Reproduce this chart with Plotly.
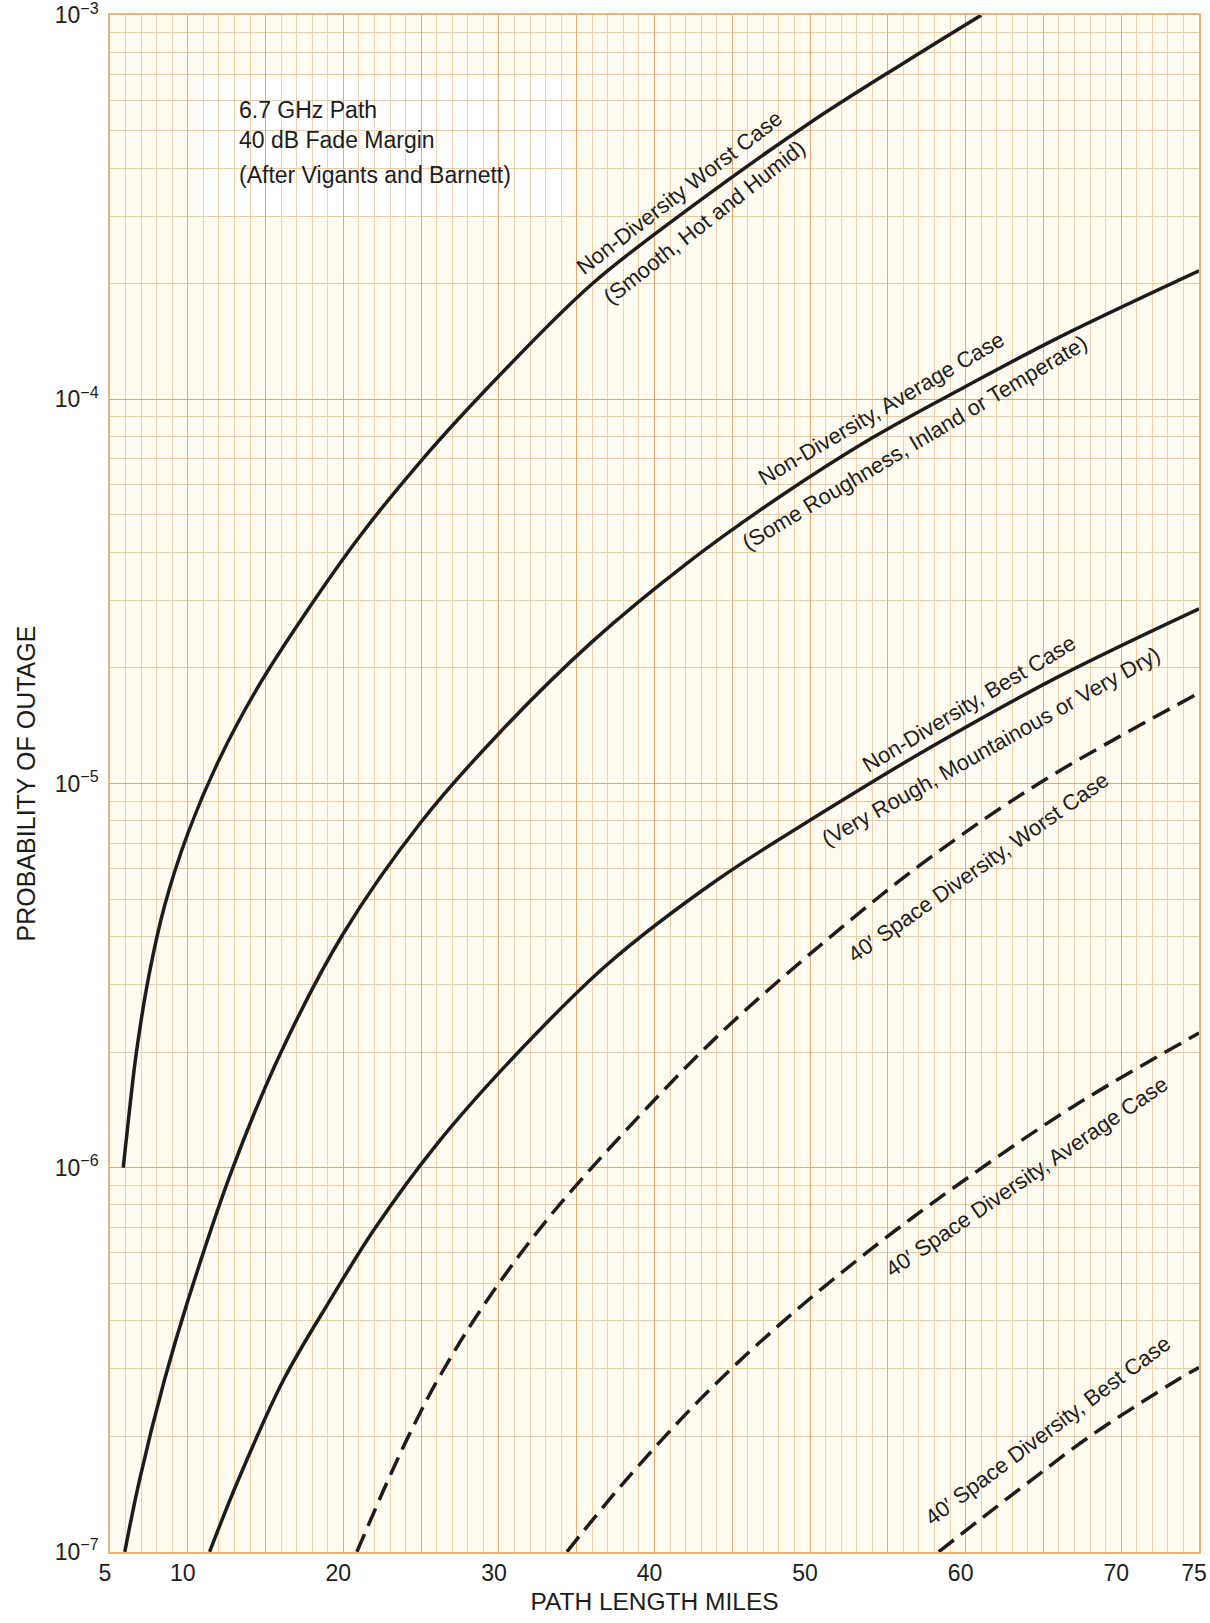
import plotly.graph_objects as go

# ---- data: path length (miles) vs. probability of outage ----
worst_x = [5.85, 6.2, 6.7, 7.5, 8.5, 10.0, 12.0, 14.5, 17.5, 21.0, 25.0, 30.0, 36.0, 43.0, 50.0, 56.0, 61.0]
worst_p = [1.0e-6, 1.35e-6, 2.0e-6, 3.16e-6, 4.79e-6, 7.41e-6, 1.15e-5, 1.78e-5, 2.75e-5,
           4.37e-5, 6.92e-5, 1.15e-4, 2.0e-4, 3.31e-4, 5.25e-4, 7.5e-4, 1.0e-3]

avg_x = [5.95, 6.9, 8.5, 10.0, 12.9, 16.0, 20.0, 25.0, 30.0, 36.0, 42.0, 48.0, 54.0, 60.0, 66.0, 75.0]
avg_p = [1.0e-7, 1.54e-7, 2.8e-7, 4.5e-7, 1.0e-6, 2.0e-6, 4.07e-6, 7.94e-6, 1.35e-5,
         2.34e-5, 3.72e-5, 5.56e-5, 7.94e-5, 1.08e-4, 1.45e-4, 2.16e-4]

best_x = [11.4, 13.25, 16.15, 19.15, 22.0, 26.0, 31.0, 37.0, 44.0, 51.0, 58.0, 66.0, 75.0]
best_p = [1.0e-7, 1.54e-7, 2.8e-7, 4.52e-7, 6.92e-7, 1.15e-6, 1.95e-6, 3.39e-6, 5.6e-6,
          8.5e-6, 1.26e-5, 1.9e-5, 2.85e-5]

div_worst_x = [20.87, 22.79, 24.29, 26.1, 29.0, 33.0, 38.0, 44.0, 50.0, 57.0, 64.7, 75.0]
div_worst_p = [1.0e-7, 1.51e-7, 2.04e-7, 2.82e-7, 4.37e-7, 7.24e-7, 1.23e-6, 2.19e-6,
               3.6e-6, 6.1e-6, 1.0e-5, 1.72e-5]

div_avg_x = [34.37, 38.0, 43.0, 48.0, 54.0, 60.0, 67.0, 75.0]
div_avg_p = [1.0e-7, 1.51e-7, 2.51e-7, 3.89e-7, 6.17e-7, 9.33e-7, 1.45e-6, 2.24e-6]

div_best_x = [58.27, 61.0, 64.16, 68.0, 73.6, 75.0]
div_best_p = [1.0e-7, 1.22e-7, 1.53e-7, 2.0e-7, 2.8e-7, 3.02e-7]

x_tick_values = [5, 10, 20, 30, 40, 50, 60, 70, 75]
y_tick_exponents = [-7, -6, -5, -4, -3]

INK = "#1c1c1c"
FONT = "Liberation Sans, Arial, sans-serif"

fig = go.Figure()

series = [
    (worst_x, worst_p, "solid"),
    (avg_x, avg_p, "solid"),
    (best_x, best_p, "solid"),
    (div_worst_x, div_worst_p, "19px,9px"),
    (div_avg_x, div_avg_p, "19px,9px"),
    (div_best_x, div_best_p, "19px,9px"),
]
for xs, ps, dash in series:
    fig.add_trace(go.Scatter(
        x=xs, y=ps, mode="lines",
        line=dict(color=INK, width=3.5, dash=dash, shape="spline", smoothing=1.0),
        hoverinfo="skip",
    ))

# x ticks every 5 miles (labels only where printed), y ticks at each decade
grid_ticks = list(range(5, 76, 5))
grid_text = [str(v) if v in x_tick_values else "" for v in grid_ticks]
y_vals = [10.0 ** e for e in y_tick_exponents]
y_text = ["10<sup>\u2212%d</sup>" % -e for e in y_tick_exponents]

# fine log subdivisions of the graph paper
fine = []
for e in range(-7, -3):
    m = 1.1
    while m < 9.95:
        if abs(m - round(m)) > 1e-6:
            fine.append(round(m, 2) * 10.0 ** e)
        m += 0.1 if m < 2 else (0.2 if m < 5 else 0.5)

fig.update_layout(
    width=1210, height=1623,
    margin=dict(l=110, r=11, t=15, b=71, autoexpand=False),
    paper_bgcolor="white",
    plot_bgcolor="#fffbf0",
    showlegend=False,
    font=dict(family=FONT, size=22, color=INK),
    xaxis=dict(
        range=[5, 75], tickmode="array", tickvals=grid_ticks, ticktext=grid_text,
        automargin=False,
        showgrid=True, gridcolor="#e4aa76", gridwidth=1.2,
        minor=dict(dtick=1, tick0=5, showgrid=True, gridcolor="#f0d0aa", gridwidth=0.9),
        zeroline=False, showline=True, linecolor="#e8b27c", linewidth=1.5, mirror=True,
        ticks="", ticklabelshift=-5, ticklabelstandoff=0,
        tickfont=dict(size=23, color=INK),
        title=dict(text="PATH LENGTH MILES", font=dict(size=24.5, color=INK), standoff=8),
    ),
    yaxis=dict(
        type="log", range=[-7.0005, -2.9995], tickmode="array", tickvals=y_vals, ticktext=y_text,
        ticklabeloverflow="allow", automargin=False,
        showgrid=True, gridcolor="#e2a873", gridwidth=1.3,
        minor=dict(dtick="D1", showgrid=True, gridcolor="#eecaa0", gridwidth=1.0),
        zeroline=False, showline=True, linecolor="#e8b27c", linewidth=1.5, mirror=True,
        ticks="", ticklabelstandoff=5,
        tickfont=dict(size=23, color=INK),
        title=dict(text="PROBABILITY OF OUTAGE", font=dict(size=25, color=INK), standoff=12),
    ),
    yaxis2=dict(
        type="log", range=[-7.0005, -2.9995], overlaying="y", anchor="x", side="left",
        tickmode="array", tickvals=fine, showticklabels=False, ticks="",
        automargin=False,
        showgrid=True, gridcolor="#f3d9b8", gridwidth=1, griddash="dot",
        zeroline=False, showline=False,
    ),
)

# white legend block in the upper left
fig.add_shape(type="rect", xref="paper", yref="paper",
              x0=0.0826, x1=0.4224, y0=0.868, y1=0.958,
              fillcolor="white", line=dict(width=0), layer="between")
for line_text, ly in [("6.7 GHz Path", 0.9383),
                      ("40 dB Fade Margin", 0.9185),
                      ("(After Vigants and Barnett)", 0.8962)]:
    fig.add_annotation(
        xref="paper", yref="paper", x=0.1166, y=ly, xanchor="left", yanchor="middle",
        showarrow=False, text=line_text,
        font=dict(size=23, color=INK, family=FONT),
    )

# curve captions laid along the lines
captions = [
    ("Non-Diversity Worst Case", 0.5228, 0.8846, -37.6),
    ("(Smooth, Hot and Humid)", 0.5455, 0.8647, -38.2),
    ("Non-Diversity, Average Case", 0.7083, 0.7440, -30.4),
    ("(Some Roughness, Inland or Temperate)", 0.7390, 0.7221, -30.8),
    ("Non-Diversity, Best Case", 0.7891, 0.5520, -31.0),
    ("(Very Rough, Mountainous or Very Dry)", 0.8090, 0.5240, -29.3),
    ("40\u2032 Space Diversity, Worst Case", 0.7971, 0.4455, -35.1),
    ("40\u2032 Space Diversity, Average Case", 0.8421, 0.2440, -34.4),
    ("40\u2032 Space Diversity, Best Case", 0.8610, 0.0790, -36.8),
]
for text, cx, cy, ang in captions:
    fig.add_annotation(xref="paper", yref="paper", x=cx, y=cy, text=text,
                       xanchor="center", yanchor="middle",
                       textangle=ang, showarrow=False,
                       font=dict(size=22, color=INK, family=FONT))

fig.write_html("out.html")
